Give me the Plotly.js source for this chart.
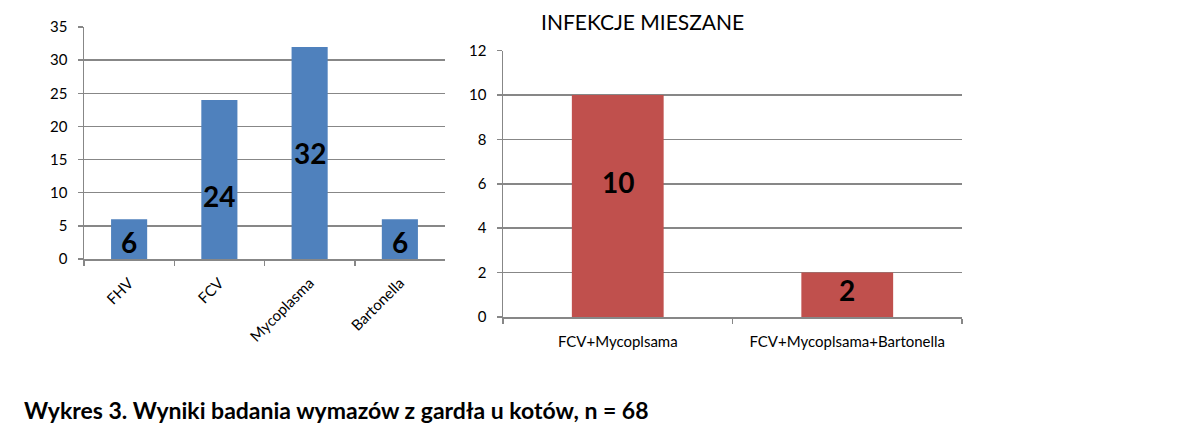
<!DOCTYPE html>
<html>
<head>
<meta charset="utf-8">
<script src="https://cdn.plot.ly/plotly-3.0.1.min.js"></script>
<style>html,body{margin:0;padding:0;background:#fff;}#chart{width:1195px;height:427px;}</style>
</head>
<body>
<div id="chart"></div>
<script>
// Left chart data
const leftCategories = ["FHV", "FCV", "Mycoplasma", "Bartonella"];
const leftValues = [6, 24, 32, 6];
const leftLabelShift = [-3, -17, 0, -3];
// Right chart data
const rightCategories = ["FCV+Mycoplsama", "FCV+Mycoplsama+Bartonella"];
const rightValues = [10, 2];
const rightLabelShift = [24, 5];
const rightTitle = "INFEKCJE MIESZANE";
const caption = "Wykres 3. Wyniki badania wymazów z gardła u kotów, n = 68";

const FONT = "Lato, 'Liberation Sans', sans-serif";
const GRID = "#878787";
const W = 1195, H = 427;

const traces = [
  {type: "bar", x: leftCategories, y: leftValues, xaxis: "x", yaxis: "y",
   marker: {color: "#4F81BD"}, width: 0.4, hoverinfo: "none"},
  {type: "bar", x: rightCategories, y: rightValues, xaxis: "x2", yaxis: "y2",
   marker: {color: "#C0504D"}, width: 0.4, hoverinfo: "none"}
];

const annotations = [];
leftCategories.forEach((c, i) => annotations.push({
  x: c, y: leftValues[i] / 2, xref: "x", yref: "y", text: String(leftValues[i]),
  showarrow: false, yshift: leftLabelShift[i],
  font: {family: FONT, size: 28, color: "#000", weight: "bold"}
}));
rightCategories.forEach((c, i) => annotations.push({
  x: c, y: rightValues[i] / 2, xref: "x2", yref: "y2", text: String(rightValues[i]),
  showarrow: false, yshift: rightLabelShift[i],
  font: {family: FONT, size: 28, color: "#000", weight: "bold"}
}));
annotations.push({
  x: 642 / W, y: 1 - 21 / H, xref: "paper", yref: "paper", text: rightTitle,
  showarrow: false, xanchor: "center", yanchor: "middle",
  font: {family: FONT, size: 21, color: "#000"}
});
annotations.push({
  x: 22 / W, y: 1 - 410 / H, xref: "paper", yref: "paper", text: "<b>" + caption + "</b>",
  showarrow: false, xanchor: "left", yanchor: "middle",
  font: {family: FONT, size: 23, color: "#000"}
});

const axisCommon = {
  showline: true, linecolor: GRID, linewidth: 1.5,
  ticks: "outside", ticklen: 5, tickcolor: GRID, tickwidth: 1.5,
  tickfont: {family: FONT, size: 15, color: "#000"}, fixedrange: true
};

const layout = {
  width: W, height: H,
  margin: {l: 0, r: 0, t: 0, b: 0},
  paper_bgcolor: "#fff", plot_bgcolor: "#fff",
  showlegend: false,
  xaxis: Object.assign({}, axisCommon, {
    domain: [84 / W, 445 / W], type: "category", tickson: "boundaries",
    tickangle: -45, showgrid: false, anchor: "y", ticklabelstandoff: 8
  }),
  yaxis: Object.assign({}, axisCommon, {
    domain: [1 - 259 / H, 1 - 27 / H], range: [0, 35], dtick: 5, tick0: 0,
    showgrid: true, gridcolor: GRID, gridwidth: 1.5, zeroline: false, anchor: "x", ticklabelstandoff: 7
  }),
  xaxis2: Object.assign({}, axisCommon, {
    domain: [503 / W, 962 / W], type: "category", tickson: "boundaries",
    tickangle: 0, showgrid: false, anchor: "y2", ticklabelstandoff: 10
  }),
  yaxis2: Object.assign({}, axisCommon, {
    domain: [1 - 317 / H, 1 - 50.7 / H], range: [0, 12], dtick: 2, tick0: 0,
    showgrid: true, gridcolor: GRID, gridwidth: 1.5, zeroline: false, anchor: "x2", ticklabelstandoff: 7
  }),
  annotations: annotations
};

Plotly.newPlot("chart", traces, layout, {displayModeBar: false, staticPlot: true});
</script>
</body>
</html>
